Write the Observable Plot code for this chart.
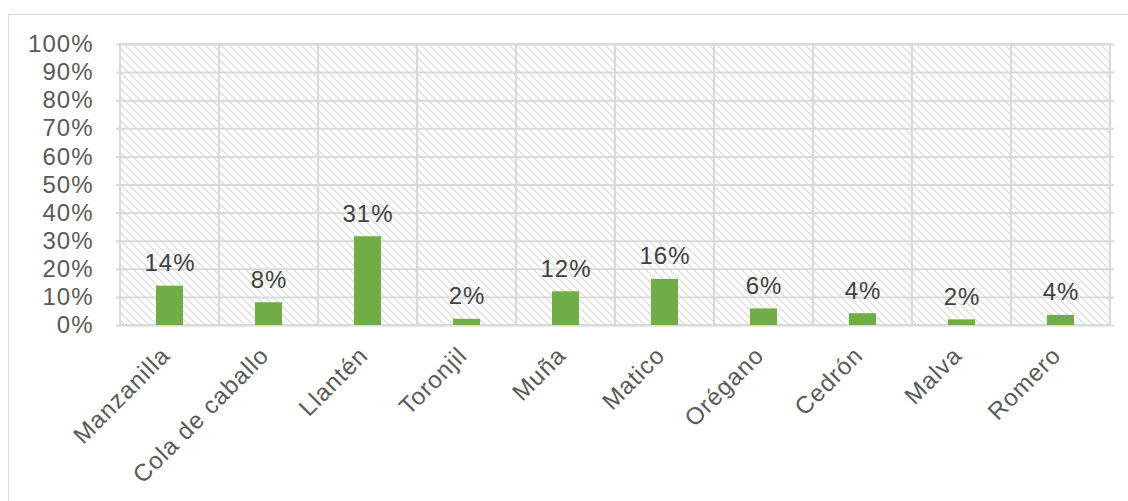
<!DOCTYPE html>
<html><head><meta charset="utf-8">
<script src="https://cdn.jsdelivr.net/npm/d3@7"></script>
<script src="https://cdn.jsdelivr.net/npm/@observablehq/plot@0.6"></script>
<style>
html,body{margin:0;padding:0;background:#fff;}
#wrap{position:relative;width:1128px;height:501px;overflow:hidden;}
#wrap svg{position:absolute;left:0;top:0;}
#wrap svg text{letter-spacing:1px;}
#border{position:absolute;left:8px;top:14px;width:1200px;height:600px;border-left:1px solid #d9d9d9;border-top:1px solid #d9d9d9;pointer-events:none;}
</style></head><body>
<div id="wrap"><div id="border"></div></div>
<script>
const categories = ["Manzanilla","Cola de caballo","Llantén","Toronjil","Muña","Matico","Orégano","Cedrón","Malva","Romero"];
const values = [14.0, 8.1, 31.6, 2.2, 12.0, 16.4, 5.9, 4.2, 2.0, 3.6];
const labels = ["14%","8%","31%","2%","12%","16%","6%","4%","2%","4%"];
const yTicks = [0,10,20,30,40,50,60,70,80,90,100];
const data = categories.map((c,i)=>({c, v: values[i], label: labels[i]}));

const chart = Plot.plot({
  width:1128, height:501, marginLeft:116, marginRight:14, marginTop:44, marginBottom:176,
  style: {fontFamily: "'Liberation Sans', Arial, sans-serif", fontSize: "24px", color:"#595959", background:"transparent"},
  x: {domain: categories, padding: 0, label: null},
  y: {domain:[0,100], label:null},
  marks: [
    Plot.cell(categories, {x: d=>d, fill:"url(#hatch)", stroke:"#d9d9d9", strokeWidth:2}),
    Plot.gridY(yTicks, {stroke:"#d9d9d9", strokeWidth:2, strokeOpacity:1}),
    Plot.barY(data, {x:"c", y:"v", fill:"#70ad47", insetLeft:36, insetRight:36}),
    Plot.text(data, {x:"c", y:"v", text:"label", dy:-15, lineAnchor:"bottom", fill:"#404040", fontSize:24}),
    Plot.axisY(yTicks, {tickFormat:d=>d+"%", tickSize:0, tickPadding:23, fontSize:24, fill:"#595959", label:null}),
    Plot.axisX({tickRotate:-45, tickSize:0, tickPadding:12, dx:-4, dy:14, fontSize:24, fill:"#595959", label:null})
  ]
});
const defs = document.createElementNS("http://www.w3.org/2000/svg","defs");
defs.innerHTML = '<pattern id="hatch" patternUnits="userSpaceOnUse" width="8" height="8"><rect width="8" height="8" fill="#fff"/><path d="M0,0L8,8M-1,7L1,9M7,-1L9,1" stroke="#d9d9d9" stroke-width="1.2"/></pattern>';
chart.insertBefore(defs, chart.firstChild);
document.getElementById("wrap").insertBefore(chart, document.getElementById("border"));
</script>
</body></html>
